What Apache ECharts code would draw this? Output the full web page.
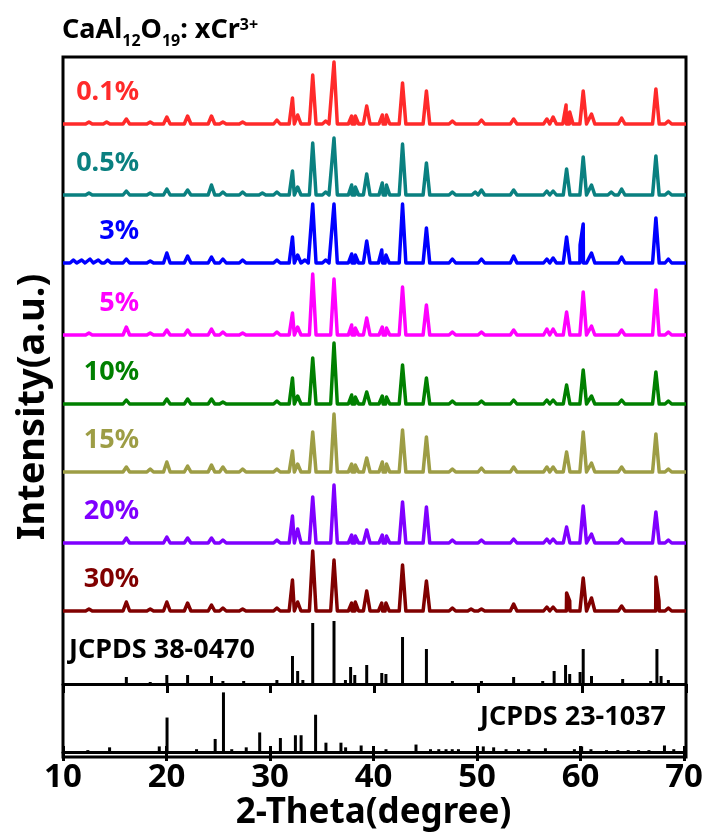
<!DOCTYPE html>
<html>
<head>
<meta charset="utf-8">
<script src="https://cdn.jsdelivr.net/npm/echarts@6/dist/echarts.min.js"></script>
<style>
html,body{margin:0;padding:0;background:#fff;}
#chart{width:706px;height:832px;}
</style>
</head>
<body>
<div id="chart"></div>
<script>
// ---------------- DATA ----------------
const xTicks = [10, 20, 30, 40, 50, 60, 70];
const sampleNames = ['0.1%', '0.5%', '3%', '5%', '10%', '15%', '20%', '30%'];
const refNames = ['JCPDS 38-0470', 'JCPDS 23-1037'];

// [2-theta, intensity(a.u.)] peak tops for each doping level
const s0_1 = [[12.5,2],[14.2,2],[16.1,5],[18.4,2],[20.0,7],[22.0,8],[24.3,8],[25.4,2],[27.3,2],[30.6,4],[32.1,26],[32.6,9],[34.05,49],[35.3,3],[36.1,62],[37.8,8],[38.15,8],[39.25,18],[40.75,9],[41.15,9],[42.7,41],[45.0,33],[47.5,3],[50.3,4],[53.4,5],[56.6,5],[57.2,7],[58.45,19],[58.8,12],[60.1,33],[60.9,10],[63.8,6],[67.1,35],[68.3,3]];
const s0_5 = [[12.5,2],[16.1,4],[18.4,2],[20.0,6],[22.0,5],[24.3,10],[25.4,3],[27.3,3],[29.2,2],[30.6,3],[32.1,24],[32.6,8],[34.05,52],[35.3,3],[36.1,57],[37.8,10],[38.15,8],[39.25,21],[40.75,12],[41.15,10],[42.7,51],[45.0,32],[47.5,3],[49.7,3],[50.3,5],[53.4,5],[56.6,4],[57.2,4],[58.5,26],[60.1,38],[60.9,10],[62.8,3],[63.8,6],[67.1,39],[68.3,3]];
const s3 = [[11.0,3],[11.8,3],[12.6,4],[13.4,3],[14.3,3],[16.1,4],[18.4,2],[20.0,10],[22.0,7],[24.3,6],[25.4,4],[27.3,3],[30.6,3],[32.1,26],[32.6,8],[33.3,3],[34.05,59],[35.3,3],[36.1,59],[37.8,9],[38.15,8],[39.25,22],[40.7,13],[41.1,8],[42.7,59],[45.0,35],[47.5,4],[50.3,4],[53.4,7],[56.6,4],[57.2,5],[58.5,26],[59.8,18],[60.1,39],[60.9,10],[63.8,6],[67.1,45],[68.3,4]];
const s5 = [[12.5,2],[16.1,8],[18.4,2],[20.0,5],[22.0,5],[24.3,6],[25.4,3],[27.3,2],[30.6,3],[32.1,22],[32.6,8],[34.05,61],[36.1,56],[37.8,10],[38.15,7],[39.25,17],[40.75,8],[41.15,7],[42.7,48],[45.0,30],[47.5,3],[50.3,3],[53.4,5],[56.6,6],[57.2,6],[58.5,23],[60.1,43],[60.9,9],[63.8,5],[67.1,45],[68.3,3]];
const s10 = [[16.1,4],[20.0,5],[22.0,5],[24.3,5],[25.4,2],[30.6,3],[32.1,26],[32.6,8],[34.05,46],[36.1,61],[37.8,9],[38.15,7],[39.25,12],[40.75,8],[41.15,7],[42.7,39],[45.0,26],[47.5,3],[50.3,3],[53.4,4],[56.6,4],[57.2,4],[58.5,19],[60.1,34],[60.9,8],[63.8,4],[67.1,32],[68.3,3]];
const s15 = [[16.1,5],[18.4,3],[20.0,10],[22.0,6],[24.3,7],[25.4,5],[27.3,3],[30.6,3],[32.1,21],[32.6,8],[34.05,40],[36.1,58],[37.8,8],[38.15,7],[39.25,14],[40.75,10],[41.15,8],[42.7,42],[45.0,35],[47.5,3],[50.3,4],[53.4,5],[56.6,5],[57.2,5],[58.5,20],[60.1,40],[60.9,9],[63.8,5],[67.1,38],[68.3,3]];
const s20 = [[16.1,5],[20.0,6],[22.0,5],[24.3,5],[25.4,3],[30.6,3],[32.1,27],[32.6,14],[34.05,46],[36.1,58],[37.8,8],[38.15,7],[39.25,13],[40.75,8],[41.15,7],[42.7,41],[45.0,36],[47.5,3],[50.3,3],[53.4,4],[56.6,4],[57.2,4],[58.5,16],[60.1,37],[60.9,9],[63.8,4],[67.1,31],[68.3,3]];
const s30 = [[12.5,2],[16.1,9],[18.4,2],[20.0,9],[22.0,8],[24.3,6],[25.4,3],[27.3,2],[30.6,3],[32.1,31],[32.6,9],[34.05,60],[36.1,51],[37.8,8],[38.15,9],[39.25,20],[40.7,8],[41.1,8],[42.7,46],[45.0,30],[47.5,3],[49.3,2],[50.3,2],[53.4,7],[56.6,4],[57.2,4],[58.5,18],[58.8,10],[60.1,33],[60.9,13],[63.8,5],[67.1,34],[67.4,10],[68.3,3]];

// standard card lines [2-theta, relative intensity]
const jcpds38 = [[16.1,7],[18.4,2],[20.0,9],[22.0,9],[24.3,8],[25.4,3],[27.4,3],[30.6,4],[32.1,28],[32.6,13],[33.1,4],[34.05,61],[36.1,63],[37.2,4],[37.7,17],[38.1,9],[39.25,19],[40.7,11],[41.1,10],[42.7,47],[45.0,35],[47.5,3],[50.3,3],[53.4,7],[56.2,3],[57.3,13],[58.4,19],[58.8,10],[59.8,12],[60.1,35],[60.9,8],[63.9,5],[66.6,3],[67.2,35],[67.6,8],[68.3,4]];
const jcpds23 = [[12.4,2],[14.5,5],[19.3,6],[20.05,37],[22.9,3],[24.7,14],[25.5,64],[26.3,3],[27.7,5],[29.0,21],[31.0,15],[32.45,18],[33.0,18],[34.4,40],[35.4,10],[36.85,10],[37.3,5],[38.8,7],[41.2,3],[44.1,8],[45.5,3],[46.3,3],[47.0,3],[47.6,3],[48.2,3],[50.6,6],[51.6,5],[52.8,3],[54.0,3],[55.0,3],[56.6,4],[59.4,3],[60.1,6],[61.0,3],[62.5,2],[63.6,2],[64.6,2],[65.6,2],[66.6,2],[68.1,7],[69.0,3]];

const sampleData = [s0_1, s0_5, s3, s5, s10, s15, s20, s30];

// ---------------- STYLE / LAYOUT ----------------
const colors = ['#ff2a2a', '#0a8080', '#0000ff', '#ff00ff', '#008000', '#9d9d45', '#7f00ff', '#800000'];
const FONT = '"Noto Sans", sans-serif';
const PLOT_L = 63, PLOT_R = 686, PLOT_T = 57, PLOT_B = 757;
const bases = [124, 195, 263, 335, 404, 472, 543, 611, 684, 757]; // panel baselines (px)
const HW = 0.32; // half width of drawn peaks (deg)

function profile(peaks) {
  const pts = [[xTicks[0], 0]];
  peaks.forEach(([p, h]) => { pts.push([p - HW, 0], [p, h], [p + HW, 0]); });
  pts.push([xTicks[xTicks.length - 1], 0]);
  pts.sort((a, b) => a[0] - b[0]);
  return pts;
}

const grids = [], xAxes = [], yAxes = [], series = [];
bases.forEach((b, i) => {
  const top = i === 0 ? PLOT_T : bases[i - 1];
  grids.push({ left: PLOT_L, top: top, width: PLOT_R - PLOT_L, height: b - top, show: false });
  yAxes.push({ type: 'value', gridIndex: i, min: 0, max: b - top, show: false });
  const isJ38 = i === 8, isJ23 = i === 9;
  xAxes.push({
    type: 'value', gridIndex: i, min: xTicks[0], max: xTicks[xTicks.length - 1], interval: 10,
    show: isJ38 || isJ23, position: 'bottom',
    axisLine: { show: true, onZero: false, lineStyle: { color: '#000', width: 3 } },
    axisTick: { show: true, inside: false, length: 9, lineStyle: { color: '#000', width: 3 } },
    axisLabel: { show: isJ23, margin: 9, color: '#000', fontFamily: FONT, fontWeight: 'bold', fontSize: 33 },
    splitLine: { show: false },
    name: isJ23 ? '2-Theta(degree)' : '', nameLocation: 'middle', nameGap: 44,
    nameTextStyle: { color: '#000', fontFamily: FONT, fontWeight: 'bold', fontSize: 35 }
  });
});
// inside ticks for bottom axis
xAxes.push({
  type: 'value', gridIndex: 9, min: xTicks[0], max: xTicks[xTicks.length - 1], interval: 10, position: 'bottom',
  axisLine: { show: false, onZero: false }, axisLabel: { show: false }, splitLine: { show: false },
  axisTick: { show: true, inside: true, length: 6, lineStyle: { color: '#000', width: 3 } }
});
// frame grid
grids.push({ left: PLOT_L, top: PLOT_T, width: PLOT_R - PLOT_L, height: PLOT_B - PLOT_T, show: true, borderColor: '#000', borderWidth: 3, backgroundColor: 'transparent' });
xAxes.push({ type: 'value', gridIndex: 10, min: 10, max: 70, show: false });
yAxes.push({
  type: 'value', gridIndex: 10, min: 0, max: 1, show: true,
  axisLine: { show: false }, axisTick: { show: false }, axisLabel: { show: false }, splitLine: { show: false },
  name: 'Intensity(a.u.)', nameLocation: 'middle', nameGap: 11,
  nameTextStyle: { color: '#000', fontFamily: FONT, fontWeight: 'bold', fontSize: 38 }
});

sampleData.forEach((d, i) => {
  series.push({
    type: 'line', name: sampleNames[i], xAxisIndex: i, yAxisIndex: i, data: profile(d),
    showSymbol: false, symbol: 'none', clip: false, animation: false,
    lineStyle: { color: colors[i], width: 3.5, join: 'round' }
  });
});
[jcpds38, jcpds23].forEach((d, k) => {
  series.push({
    type: 'bar', name: refNames[k], xAxisIndex: 8 + k, yAxisIndex: 8 + k, data: d,
    barWidth: 3, itemStyle: { color: '#000' }, animation: false
  });
});

const LABEL_FONT = 'bold 27px ' + FONT;
const graphics = sampleNames.map((n, i) => ({
  type: 'text', x: 139, y: bases[i] - 32,
  style: { text: n, fill: colors[i], font: LABEL_FONT, textAlign: 'right', textVerticalAlign: 'middle' }
}));
graphics.push({ type: 'text', x: 69, y: 650, style: { text: refNames[0], fill: '#000', font: LABEL_FONT, textAlign: 'left', textVerticalAlign: 'middle' } });
graphics.push({ type: 'text', x: 666, y: 717, style: { text: refNames[1], fill: '#000', font: LABEL_FONT, textAlign: 'right', textVerticalAlign: 'middle' } });

const chart = echarts.init(document.getElementById('chart'), null, { renderer: 'canvas' });
chart.setOption({
  animation: false,
  backgroundColor: '#fff',
  title: {
    left: 62, top: 17, padding: 0,
    text: '{a|CaAl}{s|12}{a|O}{s|19}{a|: xCr}{p|3+}',
    textStyle: {
      rich: {
        a: { fontFamily: FONT, fontWeight: 'bold', fontSize: 27, color: '#000', lineHeight: 32, verticalAlign: 'top' },
        s: { fontFamily: FONT, fontWeight: 'bold', fontSize: 16, color: '#000', lineHeight: 20, verticalAlign: 'bottom' },
        p: { fontFamily: FONT, fontWeight: 'bold', fontSize: 16, color: '#000', lineHeight: 14, verticalAlign: 'top' }
      }
    }
  },
  grid: grids, xAxis: xAxes, yAxis: yAxes, series: series, graphic: graphics
});
</script>
</body>
</html>
